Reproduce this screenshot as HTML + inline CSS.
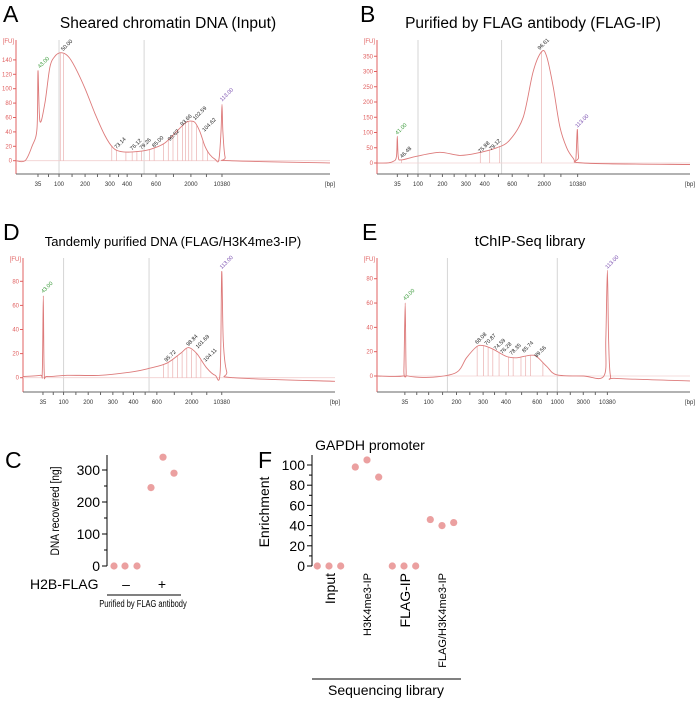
<!DOCTYPE html>
<html><head><meta charset="utf-8"><style>
html,body{margin:0;padding:0;background:#fff;}
svg{display:block;font-family:"Liberation Sans",sans-serif;}
</style></head><body>
<svg id="fig" width="700" height="701" viewBox="0 0 700 701" xmlns="http://www.w3.org/2000/svg">
<g id="root"></g>
</svg>
<script>
// ---- Electropherogram data (x in migration axis units 0..100, y in FU) ----
const traceAx=[0,2.9,5.1,6.7,7.0,7.6,9.2,10.8,12.4,14.3,16.6,18.8,22,25.2,28.3,30.9,33.1,36.3,41.1,44.3,47.5,50.6,53.8,55.4,57,58.6,60.2,61.8,63.4,64.6,65.3,65.6,65.9,66.6,68.2,100];
const traceAy=[0,0,20,45,125,55,80,130,145,150,145,130,100,65,35,18,13,12,14,18,25,38,52,55,53,40,20,8,2,1,40,78,40,5,0,-3];
const traceBx=[0,3,5.1,6.2,6.5,6.8,7.8,12.6,20,26.4,31.8,38.2,42.4,46.7,49.9,52.6,54.2,56.3,58.4,60.6,62.7,63.5,64,64.4,65.9,100];
const traceBy=[0,0,5,20,88,20,10,22,35,25,32,50,75,150,300,365,350,250,120,50,15,10,110,20,0,-5];
const traceDx=[0,5.5,6.2,6.5,6.8,7.7,14.1,24.8,35.4,40.8,46.1,50.4,53,55.7,58.9,61.6,63.2,63.7,64.2,65.3,67.4,100];
const traceDy=[1,2,5,68,5,1,2,2,5,8,12,20,25,20,8,2,5,88,30,5,0,-3];
const traceEx=[0,8.3,8.6,9,9.3,9.9,17.9,25.4,28.6,31.8,33.9,37.1,41.4,44.6,48.8,51,54.2,57.4,65.9,72.5,73.1,73.6,74,74.6,76.5,100];
const traceEy=[0,0,5,60,5,0,-1,3,15,24,25,22,16,15,17,16,8,1,0,0,30,87,30,0,-2,-4];
const ticksA=["35","100","200","300","400","600","2000","10380"];const tickPosA=[7,13.7,22,29.9,35.4,44.6,55.7,65.6];
const ticksB=["35","100","200","300","400","600","2000","10380"];const tickPosB=[6.5,13.1,20.9,28.4,34.4,43.2,53.4,64.1];
const ticksD=["35","100","200","300","400","600","2000","10380"];const tickPosD=[6.4,13,20.9,28.8,35.4,42.9,54.1,63.7];
const ticksE=["35","100","200","300","400","600","1000","3000","10380"];const tickPosE=[8.9,16.5,25.4,33.9,41.2,51.2,57.6,65.9,73.6];
// ---- Scatter data ----
const cGroups=["–","+"];
const cValues=[0,0,0,245,340,290];
const fCategories=["Input","H3K4me3-IP","FLAG-IP","FLAG/H3K4me3-IP"];
const fValues=[0,0,0,98,105,88,0,0,0,46,40,43];

const NS="http://www.w3.org/2000/svg";
const root=document.getElementById('root');
function el(tag,attrs,parent,text){const e=document.createElementNS(NS,tag);for(const k in attrs)e.setAttribute(k,attrs[k]);if(text!==undefined)e.textContent=text;(parent||root).appendChild(e);return e;}

function smoothPath(pts){
  let d='M'+pts[0][0].toFixed(1)+','+pts[0][1].toFixed(1);
  for(let i=0;i<pts.length-1;i++){
    const p0=pts[Math.max(0,i-1)],p1=pts[i],p2=pts[i+1],p3=pts[Math.min(pts.length-1,i+2)];
    const t=0.16;
    let c1y=p1[1]+(p2[1]-p0[1])*t, c2y=p2[1]-(p3[1]-p1[1])*t;
    const c1x=p1[0]+(p2[0]-p0[0])*t, c2x=p2[0]-(p3[0]-p1[0])*t;
    d+=`C${c1x.toFixed(1)},${c1y.toFixed(1)} ${c2x.toFixed(1)},${c2y.toFixed(1)} ${p2[0].toFixed(1)},${p2[1].toFixed(1)}`;
  }
  return d;
}

function epg(name,cfg){
  const g=el('g',{});
  
  
  const X=u=>cfg.x0+u/100*(cfg.x1-cfg.x0);
  const Y=v=>cfg.yz-v*cfg.k;
  cfg.gray.forEach(u=>{const l=el('line',{x1:X(u),x2:X(u),y1:cfg.top,y2:cfg.xa,stroke:'#d6d6d6','stroke-width':1},g);
    });
  const ya=el('line',{x1:cfg.x0,x2:cfg.x0,y1:cfg.top,y2:cfg.xa,stroke:'#e06060','stroke-width':1},g);
  
  const xa=el('line',{x1:cfg.x0,x2:cfg.x1,y1:cfg.xa,y2:cfg.xa,stroke:'#666','stroke-width':1},g);
  
  const fu=el('text',{x:cfg.x0-2,y:cfg.top+3,'font-size':6,fill:'#e06060','text-anchor':'end'},g,'[FU]');
  
  for(let v=0;v<=cfg.ymax;v+=cfg.ystep){
    el('line',{x1:cfg.x0-3,x2:cfg.x0,y1:Y(v),y2:Y(v),stroke:'#e06060'},g);
    const t=el('text',{x:cfg.x0-4,y:Y(v)+2,'font-size':6,fill:'#e06060','text-anchor':'end'},g,String(v));
    
  }
  cfg.tpos.forEach((u,i)=>{
    el('line',{x1:X(u),x2:X(u),y1:cfg.xa,y2:cfg.xa+3,stroke:'#666'},g);
    const t=el('text',{x:X(u),y:cfg.xa+12,'font-size':6,fill:'#333','text-anchor':'middle'},g,cfg.tlab[i]);
    
  });
  for(let i=0;i<cfg.tpos.length-1;i++){const m=(cfg.tpos[i]+cfg.tpos[i+1])/2;el('line',{x1:X(m),x2:X(m),y1:cfg.xa,y2:cfg.xa+3,stroke:'#666'},g);}
  const bp=el('text',{x:cfg.x1,y:cfg.xa+12,'font-size':6,fill:'#333','text-anchor':'middle'},g,'[bp]');
  
  el('line',{x1:cfg.x0,x2:cfg.x1,y1:Y(0),y2:Y(0),stroke:'#f2d0d0','stroke-width':0.8},g);
  (cfg.marks||[]).forEach(u=>{el('line',{x1:X(u),x2:X(u),y1:Y(0),y2:Y(cfg.markH(u)),stroke:'#eab0b0','stroke-width':0.7},g);});
  const pts=cfg.tx.map((u,i)=>[X(u),Y(cfg.ty[i])]);
  const p=el('path',{d:smoothPath(pts),fill:'none',stroke:'#dd7a7a','stroke-width':0.9},g);
  
  cfg.labels.forEach(L=>{const t=el('text',{x:X(L[0]),y:Y(L[1]),'font-size':5.5,fill:L[3],transform:`rotate(-45 ${X(L[0])} ${Y(L[1])})`},g,L[2]);
    });
}
function interp(xs,ys){return u=>{for(let i=1;i<xs.length;i++){if(u<=xs[i]){const f=(u-xs[i-1])/(xs[i]-xs[i-1]);return ys[i-1]+f*(ys[i]-ys[i-1]);}}return 0;};}

epg('electropherogram-a',{x0:16,x1:330,top:40,xa:174,yz:160.7,k:0.72,ymax:140,ystep:20,tx:traceAx,ty:traceAy,tpos:tickPosA,tlab:ticksA,gray:[13.7,40.8],
 marks:[14.1,15.1,30.5,32,35,37,38.5,40,42.5,44,47,48.5,50,51.5,53,54,55,56,57.5,59.5,61],markH:interp(traceAx,traceAy),
 labels:[[7.6,128,'43.00','#3a9a3a'],[15,152,'50.00','#222'],[32,16,'73.14','#222'],[37,14,'76.12','#222'],[40,15,'79.26','#222'],[44,18,'85.00','#222'],[49,27,'90.62','#222'],[53,48,'93.66','#222'],[57,56,'102.59','#222'],[60,40,'104.62','#222'],[65.6,82,'113.00','#7a4fb0']]});
epg('electropherogram-b',{x0:377,x1:690,top:40,xa:174,yz:163,k:0.305,ymax:350,ystep:50,tx:traceBx,ty:traceBy,tpos:tickPosB,tlab:ticksB,gray:[13.1,39.8],
 marks:[7.8,33,36,39.2,52.6],markH:interp(traceBx,traceBy),
 labels:[[6.5,92,'41.00','#3a9a3a'],[8,15,'46.48','#222'],[33,32,'75.88','#222'],[36.5,40,'79.12','#222'],[52,370,'96.61','#222'],[64,115,'113.00','#7a4fb0']]});
epg('electropherogram-d',{x0:23,x1:335,top:258,xa:392,yz:377.7,k:1.205,ymax:80,ystep:20,tx:traceDx,ty:traceDy,tpos:tickPosD,tlab:ticksD,gray:[13,40.4],
 marks:[45,46.5,48,49.5,51,52.5,54,55.5,57],markH:interp(traceDx,traceDy),
 labels:[[6.5,70,'43.00','#3a9a3a'],[46,13,'95.72','#222'],[53,26,'98.84','#222'],[56,24,'101.69','#222'],[58.5,13,'104.11','#222'],[63.7,90,'113.00','#7a4fb0']]});
epg('electropherogram-e',{x0:377,x1:690,top:258,xa:392,yz:376,k:1.216,ymax:80,ystep:20,tx:traceEx,ty:traceEy,tpos:tickPosE,tlab:ticksE,gray:[22.5,57.6],
 marks:[32,34,35.5,37,39,42,43.5,46,47.5,49,53],markH:interp(traceEx,traceEy),
 labels:[[32,26,'68.08','#222'],[35,25,'70.87','#222'],[38,21,'74.59','#222'],[40,18,'76.28','#222'],[43,17,'78.35','#222'],[47,19,'85.74','#222'],[51,15,'89.56','#222'],[9,62,'43.00','#3a9a3a'],[73.6,88,'113.00','#7a4fb0']]});

[['A',3,22,'panel-label-a'],['B',360,22,'panel-label-b'],['D',3,240,'panel-label-d'],['E',362,240,'panel-label-e'],['C',5,468,'panel-label-c'],['F',258,468,'panel-label-f']].forEach(a=>{
 const t=el('text',{x:a[1],y:a[2],'font-size':23,fill:'#000'},root,a[0]);});
[['Sheared chromatin DNA (Input)',168,28,15.5,'title-a'],['Purified by FLAG antibody (FLAG-IP)',533,28,15.5,'title-b'],['Tandemly purified DNA (FLAG/H3K4me3-IP)',173,246,13,'title-d'],['tChIP-Seq library',530,246,14.5,'title-e'],['GAPDH promoter',370,450,14,'title-f']].forEach(a=>{
 const t=el('text',{x:a[1],y:a[2],'font-size':a[3],fill:'#000','text-anchor':'middle'},root,a[0]);});

// ---- Panel C ----
(function(){
 const g=el('g',{});
 const Y=v=>566-v*0.32;
 el('line',{x1:107,x2:107,y1:455,y2:566,stroke:'#000','stroke-width':1},g);
 for(let v=0;v<=300;v+=50){el('line',{x1:v%100?104:102,x2:107,y1:Y(v),y2:Y(v),stroke:'#000'},g);
  if(v%100===0){const t=el('text',{x:100,y:Y(v)+5,'font-size':14,'text-anchor':'end'},g,String(v));}}
 const yl=el('text',{x:0,y:0,'font-size':12,'text-anchor':'middle',transform:'translate(59,511) rotate(-90) scale(0.85,1)'},g,'DNA recovered [ng]');
 
 const xs=[114,125,137,151,163,174];
 cValues.forEach((v,i)=>{const c=el('circle',{cx:xs[i],cy:Y(v),r:3.6,fill:'#eba0a0'},g);});
 const h=el('text',{x:30,y:589,'font-size':14},g,'H2B-FLAG');
 cGroups.forEach((s,i)=>{const t=el('text',{x:[126,162][i],y:589,'font-size':14,'text-anchor':'middle'},g,s);});
 el('line',{x1:107,x2:181,y1:595,y2:595,stroke:'#000'},g);
 const p=el('text',{x:0,y:0,'font-size':10,'text-anchor':'middle',transform:'translate(143,607) scale(0.75,1)'},g,'Purified by FLAG antibody');
 
})();

// ---- Panel F ----
(function(){
 const g=el('g',{});
 const Y=v=>566-v*1.01;
 el('line',{x1:312,x2:312,y1:455,y2:566,stroke:'#000','stroke-width':1},g);
 for(let v=0;v<=100;v+=10){el('line',{x1:v%20?309:307,x2:312,y1:Y(v),y2:Y(v),stroke:'#000'},g);
  if(v%20===0){const t=el('text',{x:305,y:Y(v)+5,'font-size':14,'text-anchor':'end'},g,String(v));}}
 const yl=el('text',{x:0,y:0,'font-size':14,'text-anchor':'middle',transform:'translate(269,512) rotate(-90)'},g,'Enrichment');
 
 const gx=[329,367,404,442];
 fValues.forEach((v,i)=>{const cx=gx[Math.floor(i/3)]+(i%3-1)*11.7;const c=el('circle',{cx:cx,cy:Y(v),r:3.6,fill:'#eba0a0'},g);});
 const fs=[14,11,14,11];
 fCategories.forEach((s,i)=>{const t=el('text',{x:0,y:0,'font-size':fs[i],'text-anchor':'end',transform:`translate(${gx[i]+(fs[i]===14?6:4)},573) rotate(-90)`},g,s);});
 el('line',{x1:312,x2:461,y1:679,y2:679,stroke:'#000'},g);
 const sl=el('text',{x:386,y:695,'font-size':14,'text-anchor':'middle'},g,'Sequencing library');
 
})();
</script>
</body></html>
